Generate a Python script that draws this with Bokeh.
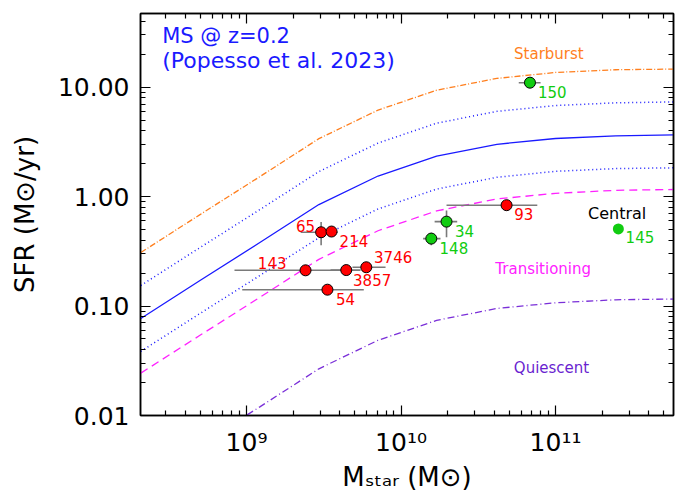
import math
from bokeh.plotting import figure
from bokeh.models import LogAxis, FixedTicker, CustomJSTickFormatter, Label, ColumnDataSource
from bokeh.embed import file_html
from bokeh.resources import INLINE
from bokeh.core.properties import value

FONT = "DejaVu Sans"

# ---------------- data ----------------
mass_grid = [2.07e8, 5.0e8, 1.22e9, 2.94e9, 7.1e9, 1.70e10, 4.17e10, 1.0e11, 2.45e11, 5.9e11]
ms_sfr = [0.077, 0.171, 0.380, 0.845, 1.54, 2.34, 3.00, 3.39, 3.59, 3.66]
ms_upper = [0.154, 0.342, 0.76, 1.69, 3.08, 4.68, 6.0, 6.78, 7.18, 7.32]
ms_lower = [0.0385, 0.0855, 0.19, 0.42, 0.77, 1.17, 1.50, 1.70, 1.80, 1.83]
starburst = [0.308, 0.684, 1.52, 3.38, 6.16, 9.36, 12.0, 13.6, 14.4, 14.6]
transition = [0.0244, 0.054, 0.120, 0.267, 0.487, 0.74, 0.95, 1.07, 1.14, 1.16]
quiescent = [0.00244, 0.0054, 0.0120, 0.0267, 0.0487, 0.074, 0.095, 0.107, 0.114, 0.116]

red_names = ["65", "214", "143", "3857", "3746", "54", "93"]
red_mass = [3.04e9, 3.55e9, 2.41e9, 4.42e9, 5.96e9, 3.34e9, 4.82e10]
red_sfr = [0.472, 0.479, 0.212, 0.213, 0.226, 0.141, 0.834]
red_mass_lo = [2.24e9, 3.55e9, 8.36e8, 3.50e9, 4.85e9, 9.38e8, 1.97e10]
red_mass_hi = [3.90e9, 3.55e9, 4.06e9, 5.47e9, 7.94e9, 5.74e9, 7.62e10]
red_sfr_lo = [0.359, 0.479, 0.212, 0.213, 0.226, 0.141, 0.834]
red_sfr_hi = [0.584, 0.479, 0.212, 0.213, 0.226, 0.141, 0.834]
red_label_logx = [9.382, 9.695, 9.166, 9.813, 9.949, 9.641, 10.795]
red_label_logy = [-0.271, -0.408, -0.607, -0.759, -0.552, -0.933, -0.158]

green_names = ["150", "34", "148", "145"]
green_mass = [6.83e10, 1.97e10, 1.57e10, 2.55e11]
green_sfr = [10.97, 0.590, 0.413, 0.506]
green_mass_lo = [5.78e10, 1.65e10, 1.39e10, 2.55e11]
green_mass_hi = [8.00e10, 2.31e10, 1.80e10, 2.55e11]
green_sfr_lo = [10.97, 0.425, 0.359, 0.506]
green_sfr_hi = [10.97, 0.745, 0.466, 0.506]
green_label_logx = [10.979, 10.411, 10.342, 11.546]
green_label_logy = [0.958, -0.317, -0.469, -0.371]
green_outline = ["black", "black", "black", None]

x_major = [1e9, 1e10, 1e11]
y_major = [0.01, 0.1, 1.0, 10.0]
x_lim = (2.06e8, 5.8e11)
y_lim = (0.01, 47.0)

# ---------------- figure ----------------
p = figure(x_axis_type="log", y_axis_type="log", x_range=x_lim, y_range=y_lim,
           frame_width=533, frame_height=402,
           min_border_left=140, min_border_right=2, min_border_top=13, min_border_bottom=78,
           output_backend="svg", toolbar_location=None)
p.xgrid.visible = False
p.ygrid.visible = False
p.outline_line_color = "black"
p.outline_line_width = 1.5
p.background_fill_color = "white"
p.border_fill_color = "white"

x_minor = [m * 10 ** e for e in range(8, 12) for m in range(2, 10) if x_lim[0] <= m * 10 ** e <= x_lim[1]]
y_minor = [m * 10 ** e for e in range(-2, 2) for m in range(2, 10) if y_lim[0] <= m * 10 ** e <= y_lim[1]]

sup_code = """
const sup = {'0':'\u2070','1':'\u00b9','2':'\u00b2','3':'\u00b3','4':'\u2074','5':'\u2075','6':'\u2076','7':'\u2077','8':'\u2078','9':'\u2079','-':'\u207b'};
const e = Math.round(Math.log10(tick));
return '10' + String(e).split('').map(c => sup[c]).join('');
"""

def style_axis(ax):
    ax.axis_line_color = "black"
    ax.axis_line_width = 1.5
    ax.major_tick_in = 10
    ax.major_tick_out = 0
    ax.minor_tick_in = 5
    ax.minor_tick_out = 0
    ax.major_tick_line_color = "black"
    ax.minor_tick_line_color = "black"
    ax.major_tick_line_width = 1.2
    ax.minor_tick_line_width = 1.2
    ax.major_label_text_font = FONT
    ax.major_label_text_color = "black"

xa = p.xaxis[0]
xa.ticker = FixedTicker(ticks=x_major, minor_ticks=x_minor)
xa.formatter = CustomJSTickFormatter(code=sup_code)
style_axis(xa)
xa.major_label_text_font_size = "25px"
xa.major_label_standoff = 12
xa.axis_label = "M\u209b\u209c\u2090\u1d63 (M\u2299)"
xa.axis_label_text_font = FONT
xa.axis_label_text_font_size = "26px"
xa.axis_label_text_font_style = "normal"
xa.axis_label_text_color = "black"
xa.axis_label_standoff = 2

ya = p.yaxis[0]
ya.ticker = FixedTicker(ticks=y_major, minor_ticks=y_minor)
ya.formatter = CustomJSTickFormatter(code="return tick.toFixed(2);")
style_axis(ya)
ya.major_label_text_font_size = "25px"
ya.major_label_standoff = 11
ya.axis_label = "SFR (M\u2299/yr)"
ya.axis_label_text_font = FONT
ya.axis_label_text_font_size = "26px"
ya.axis_label_text_font_style = "normal"
ya.axis_label_text_color = "black"
ya.axis_label_standoff = 15

top = LogAxis(ticker=FixedTicker(ticks=x_major, minor_ticks=x_minor),
              formatter=CustomJSTickFormatter(code="return '';"),
              major_label_standoff=0, major_label_text_font_size="1px")
style_axis(top)
p.add_layout(top, "above")
right = LogAxis(ticker=FixedTicker(ticks=y_major, minor_ticks=y_minor),
                formatter=CustomJSTickFormatter(code="return '';"),
                major_label_standoff=0, major_label_text_font_size="1px")
style_axis(right)
p.add_layout(right, "right")

# ---------------- curves ----------------
p.line(mass_grid, starburst, line_color="#ff7f1e", line_width=1.3, line_dash="6 2 1 2")
p.line(mass_grid, ms_upper, line_color="#1a1aff", line_width=1.5, line_dash="1 3")
p.line(mass_grid, ms_sfr, line_color="#1a1aff", line_width=1.3)
p.line(mass_grid, ms_lower, line_color="#1a1aff", line_width=1.5, line_dash="1 3")
p.line(mass_grid, transition, line_color="#ff22ff", line_width=1.3, line_dash="8 5")
p.line(mass_grid, quiescent, line_color="#7a2fd8", line_width=1.3, line_dash="7 3 1 3")

# ---------------- points ----------------
red_src = ColumnDataSource(dict(
    x=red_mass, y=red_sfr, xlo=red_mass_lo, xhi=red_mass_hi, ylo=red_sfr_lo, yhi=red_sfr_hi,
    name=red_names, lx=[10 ** v for v in red_label_logx], ly=[10 ** v for v in red_label_logy]))
green_src = ColumnDataSource(dict(
    x=green_mass, y=green_sfr, xlo=green_mass_lo, xhi=green_mass_hi, ylo=green_sfr_lo, yhi=green_sfr_hi,
    name=green_names, lx=[10 ** v for v in green_label_logx], ly=[10 ** v for v in green_label_logy],
    lc=green_outline))

for src in (red_src, green_src):
    p.segment(x0="xlo", y0="y", x1="xhi", y1="y", source=src, line_color="#7a7a7a", line_width=1.6)
    p.segment(x0="x", y0="ylo", x1="x", y1="yhi", source=src, line_color="#7a7a7a", line_width=1.6)

p.scatter("x", "y", source=red_src, size=11, fill_color="#ff0000", line_color="black", line_width=1)
p.scatter("x", "y", source=green_src, size=11, fill_color="#11cc11", line_color="lc", line_width=1)

p.text("lx", "ly", text="name", source=red_src, text_color="#ff0000", text_font=value(FONT),
       text_font_size="15px", text_align="center", text_baseline="middle")
p.text("lx", "ly", text="name", source=green_src, text_color="#11cc11", text_font=value(FONT),
       text_font_size="15px", text_align="center", text_baseline="middle")

# ---------------- annotations ----------------
def lab(text, lx, ly, color, size, align="center", baseline="middle"):
    p.add_layout(Label(x=10 ** lx, y=10 ** ly, text=text, text_color=color, text_font=FONT,
                       text_font_size=size, text_align=align, text_baseline=baseline))

lab("Starburst", 10.957, 1.306, "#ff7f1e", "15px")
lab("Transitioning", 10.920, -0.659, "#ff22ff", "15px")
lab("Quiescent", 10.974, -1.567, "#6a1fd0", "15px")
lab("Central", 11.399, -0.158, "black", "16px")
lab("MS @ z=0.2", 8.454, 1.468, "#1a1aff", "21px", align="left")
lab("(Popesso et al. 2023)", 8.454, 1.244, "#1a1aff", "22px", align="left")

with open("out.html", "w", encoding="utf-8") as f:
    f.write(file_html(p, INLINE))
